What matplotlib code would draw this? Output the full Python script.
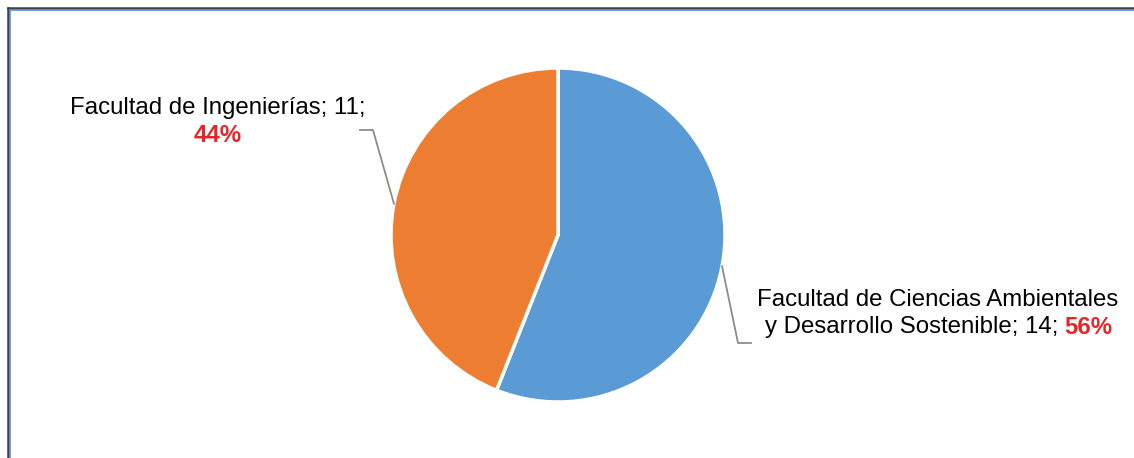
import numpy as np
import matplotlib
matplotlib.use("Agg")
import matplotlib.pyplot as plt
from matplotlib.lines import Line2D

# Data
labels = ["Facultad de Ciencias Ambientales\ny Desarrollo Sostenible", "Facultad de Ingenierías"]
counts = [14, 11]
colors = ["#5B9BD5", "#ED7D31"]

plt.rcParams['font.family'] = ['Liberation Sans', 'DejaVu Sans']

W, H = 1134, 458
fig = plt.figure(figsize=(W / 100, H / 100), dpi=100)

# pie centre / radius in pixels (top-left origin)
cx, cy, r = 558, 235, 167
ax = fig.add_axes([(cx - r) / W, (H - cy - r) / H, 2 * r / W, 2 * r / H])
wedges, _ = ax.pie(counts, colors=colors, startangle=90, counterclock=False,
                   radius=1, wedgeprops=dict(edgecolor="white", linewidth=2.5))
ax.set_xlim(-1, 1)
ax.set_ylim(-1, 1)
ax.set_aspect("equal")
ax.axis("off")

def px(x, y):
    return (x - cx) / r, (cy - y) / r

total = sum(counts)
pcts = [round(100 * c / total) for c in counts]
fs = 17.3
line_col = "#8C8C8C"

# anchor points at wedge mid-angle
anchors = []
for w in wedges:
    ang = np.deg2rad((w.theta1 + w.theta2) / 2)
    anchors.append((np.cos(ang), np.sin(ang)))

# right label (blue slice)
ax_, ay_ = anchors[0]
pts = [(ax_, ay_), px(738, 343), px(751, 343)]
ax.plot([p[0] for p in pts], [p[1] for p in pts], color=line_col, lw=1.3, clip_on=False)
name0 = labels[0].split("\n")
ax.text(*px(938, 300), name0[0], fontsize=fs, ha="center", va="center")
ax.text(*px(1058, 327), f"{name0[1]}; {counts[0]};", fontsize=fs, ha="right", va="center")
ax.text(*px(1064, 327), f"{pcts[0]}%", fontsize=fs, ha="left", va="center",
        color="#E3262A", fontweight="bold")

# left label (orange slice)
bx, by = anchors[1]
pts = [(bx, by), px(373, 130), px(360, 130)]
ax.plot([p[0] for p in pts], [p[1] for p in pts], color=line_col, lw=1.3, clip_on=False)
ax.text(*px(218, 108), f"{labels[1]}; {counts[1]};", fontsize=fs, ha="center", va="center")
ax.text(*px(218, 136), f"{pcts[1]}%", fontsize=fs, ha="center", va="center",
        color="#E3262A", fontweight="bold")

# outer frame (top and left edges visible)
def fline(x0, y0, x1, y1, c, lw):
    fig.add_artist(Line2D([x0 / W, x1 / W], [1 - y0 / H, 1 - y1 / H], color=c, lw=lw,
                          transform=fig.transFigure))

fline(7.5, 7.5, W, 7.5, "#3F3F46", 1.8)
fline(7.5, 7.5, 7.5, H, "#3F3F46", 1.8)
fline(9.5, 9.8, W, 9.8, "#5B8FD0", 1.2)
fline(9.8, 9.5, 9.8, H, "#5B8FD0", 1.2)

fig.savefig("out.png", dpi=100, facecolor="white")
